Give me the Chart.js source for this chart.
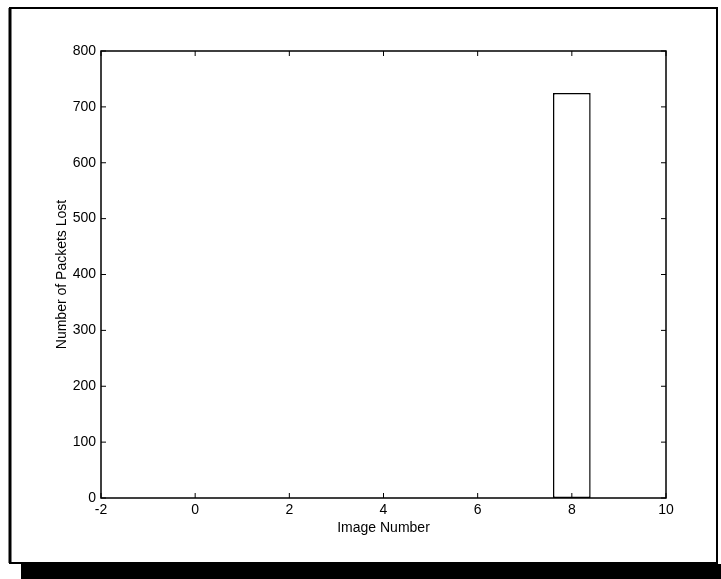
<!DOCTYPE html>
<html>
<head>
<meta charset="utf-8">
<script src="https://cdn.jsdelivr.net/npm/chart.js@4"></script>
<style>
  html, body { margin: 0; padding: 0; background: #fff; }
  canvas { display: block; }
</style>
</head>
<body>
<canvas id="chartPackets" width="721" height="579"></canvas>
<script>
// Datos
const imageNumbers = [0, 1, 2, 3, 4, 5, 6, 7, 8];
const packetsLost = [0, 0, 0, 0, 0, 0, 0, 0, 725];
const xTickValues = [-2, 0, 2, 4, 6, 8, 10];
const yTickValues = [0, 100, 200, 300, 400, 500, 600, 700, 800];

const fontFamily = "'Liberation Sans', Arial, Helvetica, sans-serif";

// Marco de la figura con sombra (estilo escaneado)
const framePlugin = {
    id: 'frame',
    beforeDraw(chart) {
        const ctx = chart.ctx;
        ctx.save();
        ctx.fillStyle = '#fff';
        ctx.fillRect(0, 0, chart.width, chart.height);
        ctx.fillStyle = '#000';
        ctx.fillRect(21, 564, chart.width - 21, chart.height - 564);
        ctx.strokeStyle = '#000';
        ctx.lineWidth = 2;
        ctx.strokeRect(10, 8, 707, 555);
        ctx.lineWidth = 3;
        ctx.beginPath();
        ctx.moveTo(10, 8);
        ctx.lineTo(10, 563);
        ctx.stroke();
        ctx.restore();
    }
};

// Caja de ejes y marcas hacia dentro (estilo MATLAB)
const boxTicksPlugin = {
    id: 'boxTicks',
    afterDraw(chart) {
        const ctx = chart.ctx;
        const area = chart.chartArea;
        const xs = chart.scales.x;
        const ys = chart.scales.y;
        const len = 5;
        ctx.save();
        ctx.strokeStyle = '#000';
        ctx.lineWidth = 1.5;
        ctx.strokeRect(area.left, area.top, area.right - area.left, area.bottom - area.top);
        ctx.lineWidth = 1;
        ctx.beginPath();
        xTickValues.forEach(v => {
            const px = xs.getPixelForValue(v);
            ctx.moveTo(px, area.bottom);
            ctx.lineTo(px, area.bottom - len);
            ctx.moveTo(px, area.top);
            ctx.lineTo(px, area.top + len);
        });
        yTickValues.forEach(v => {
            const py = ys.getPixelForValue(v);
            ctx.moveTo(area.left, py);
            ctx.lineTo(area.left + len, py);
            ctx.moveTo(area.right, py);
            ctx.lineTo(area.right - len, py);
        });
        ctx.stroke();
        ctx.restore();
    }
};

document.addEventListener('DOMContentLoaded', function () {
    const ctx = document.getElementById('chartPackets');
    new Chart(ctx, {
        type: 'bar',
        data: {
            datasets: [{
                label: 'Packets Lost',
                data: imageNumbers.map((x, i) => ({ x: x, y: packetsLost[i] })),
                backgroundColor: '#ffffff',
                borderColor: '#000000',
                borderWidth: 1.5,
                borderSkipped: false,
                barPercentage: 0.8,
                categoryPercentage: 1
            }]
        },
        plugins: [framePlugin, boxTicksPlugin],
        options: {
            responsive: false,
            animation: false,
            devicePixelRatio: 1,
            layout: {
                padding: { left: 0, top: 51, right: 55, bottom: 31 }
            },
            plugins: {
                legend: { display: false },
                tooltip: { enabled: false }
            },
            scales: {
                x: {
                    type: 'linear',
                    offset: false,
                    min: -2,
                    max: 10,
                    afterBuildTicks: function (scale) {
                        scale.ticks = xTickValues.map(v => ({ value: v }));
                    },
                    afterFit: function (scale) {
                        scale.height = 50;
                    },
                    grid: { display: false, drawTicks: false, offset: false },
                    border: { display: false },
                    ticks: {
                        color: '#000',
                        padding: 4,
                        maxRotation: 0,
                        font: { family: fontFamily, size: 14 }
                    },
                    title: {
                        display: true,
                        text: 'Image Number',
                        color: '#000',
                        padding: { top: 0, bottom: 11 },
                        font: { family: fontFamily, size: 14 }
                    }
                },
                y: {
                    min: 0,
                    max: 800,
                    afterBuildTicks: function (scale) {
                        scale.ticks = yTickValues.map(v => ({ value: v }));
                    },
                    afterFit: function (scale) {
                        scale.width = 101;
                    },
                    grid: { display: false, drawTicks: false },
                    border: { display: false },
                    ticks: {
                        color: '#000',
                        padding: 5,
                        font: { family: fontFamily, size: 14 }
                    },
                    title: {
                        display: true,
                        text: 'Number of Packets Lost',
                        color: '#000',
                        padding: { top: 54, bottom: 0 },
                        font: { family: fontFamily, size: 14 }
                    }
                }
            }
        }
    });
});
</script>
</body>
</html>
